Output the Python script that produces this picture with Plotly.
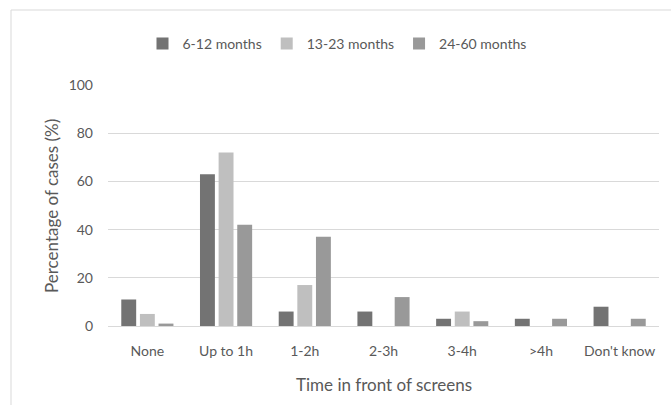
import plotly.graph_objects as go

categories = ["None", "Up to 1h", "1-2h", "2-3h", "3-4h", ">4h", "Don't know"]
series_names = ["6-12 months", "13-23 months", "24-60 months"]
v_6_12 = [11, 63, 6, 6, 3, 3, 8]
v_13_23 = [5, 72, 17, 0, 6, 0, 0]
v_24_60 = [1, 42, 37, 12, 2, 3, 3]
y_ticks = [0, 20, 40, 60, 80, 100]

colors = ["#737373", "#bfbfbf", "#999999"]
FONT = "Lato"
TXT = "#595959"

fig = go.Figure()
for name, vals, c in zip(series_names, [v_6_12, v_13_23, v_24_60], colors):
    fig.add_trace(go.Bar(x=categories, y=vals, name=name, marker=dict(color=c, line=dict(width=0))))

W, H = 671, 405
L, R, T, B = 108, 12, 85, 79
pw = W - L - R
ph = H - T - B

fig.update_layout(
    width=W, height=H,
    margin=dict(l=L, r=R, t=T, b=B),
    paper_bgcolor="white", plot_bgcolor="white",
    barmode="group", bargap=0.29, bargroupgap=0.2,
    font=dict(family=FONT, size=14, color=TXT),
    legend=dict(orientation="h", x=(337 - L) / pw, xanchor="center",
                y=(H - B - 44) / ph, yanchor="middle",
                font=dict(size=14, color=TXT), itemwidth=30, traceorder="normal"),
    xaxis=dict(showgrid=False, showline=True, linecolor="#d9d9d9", linewidth=1,
               ticks="", tickfont=dict(size=14, color=TXT), ticklabelstandoff=12),
    yaxis=dict(range=[0, 100], tickvals=y_ticks, showgrid=True, gridcolor="#d9d9d9",
               gridwidth=1, zeroline=False, showline=False, ticks="",
               tickfont=dict(size=14, color=TXT), ticklabelstandoff=14),
    showlegend=True,
)

fig.add_annotation(text="Time in front of screens", xref="paper", yref="paper",
                   x=(384 - L) / pw, y=(H - B - 384) / ph, showarrow=False,
                   xanchor="center", yanchor="middle", font=dict(size=17, color=TXT))
fig.add_annotation(text="Percentage of cases (%)", xref="paper", yref="paper",
                   x=(51 - L) / pw, y=(H - B - 206) / ph, showarrow=False, textangle=-90,
                   xanchor="center", yanchor="middle", font=dict(size=17, color=TXT))

# chart frame
fx = (11 - L) / pw
fy = (H - B - 10) / ph
fig.add_shape(type="line", xref="paper", yref="paper", x0=fx, x1=fx, y0=fy, y1=-1,
              line=dict(color="#d9d9d9", width=1))
fig.add_shape(type="line", xref="paper", yref="paper", x0=fx, x1=1.2, y0=fy, y1=fy,
              line=dict(color="#d9d9d9", width=1))

fig.write_html("out.html")
